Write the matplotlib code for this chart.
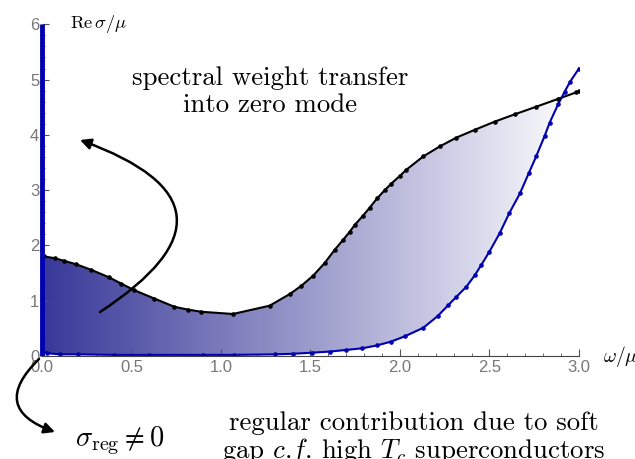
import numpy as np
import matplotlib
matplotlib.use("Agg")
import matplotlib.pyplot as plt
from matplotlib.ticker import MultipleLocator, FormatStrFormatter

plt.rcParams['mathtext.fontset'] = 'cm'

# upper curve (black): Re sigma / mu
x_up = [0.0, 0.013, 0.07, 0.125, 0.19, 0.274, 0.377, 0.442, 0.516, 0.627, 0.74, 0.814,
        0.89, 1.067, 1.272, 1.384, 1.449, 1.514, 1.579, 1.635, 1.682, 1.72, 1.747,
        1.794, 1.83, 1.872, 1.915, 1.952, 2.0, 2.036, 2.13, 2.222, 2.315, 2.417, 2.53,
        2.64, 2.762, 2.883, 2.986, 3.0]
y_up = [1.80, 1.80, 1.77, 1.72, 1.66, 1.56, 1.42, 1.31, 1.19, 1.04, 0.89, 0.84,
        0.80, 0.76, 0.91, 1.12, 1.27, 1.45, 1.68, 1.92, 2.10, 2.25, 2.37,
        2.54, 2.68, 2.85, 3.00, 3.12, 3.26, 3.37, 3.61, 3.79, 3.95, 4.09, 4.24,
        4.37, 4.51, 4.65, 4.77, 4.79]

# lower curve (blue): regular contribution
x_lo = [0.0, 0.03, 0.1, 0.2, 0.4, 0.6, 0.9, 1.07, 1.3, 1.4, 1.51, 1.607, 1.7, 1.79,
        1.87, 1.95, 2.03, 2.13, 2.21, 2.27, 2.315, 2.37, 2.418, 2.455, 2.5, 2.557,
        2.61, 2.67, 2.72, 2.762, 2.808, 2.836, 2.883, 2.92, 2.95, 3.0]
y_lo = [0.10, 0.05, 0.03, 0.03, 0.02, 0.02, 0.02, 0.02, 0.03, 0.04, 0.06, 0.08, 0.11,
        0.14, 0.19, 0.26, 0.36, 0.51, 0.72, 0.92, 1.07, 1.25, 1.46, 1.65, 1.89, 2.22,
        2.58, 2.94, 3.31, 3.62, 3.98, 4.22, 4.55, 4.78, 4.96, 5.20]

# delta function at zero frequency
delta_height = 6.0

fig = plt.figure(figsize=(6.35, 4.59), dpi=100)
ax = fig.add_axes([0.0661, 0.2244, 0.8457, 0.7227])
ax.set_xlim(0, 3.0)
ax.set_ylim(0, 6.0)

# gradient fill between the two curves
px = np.concatenate([x_up, x_lo[::-1]])
py = np.concatenate([y_up, y_lo[::-1]])
clip = ax.fill(px, py, fc='none', ec='none')[0]
c0 = np.array([0.22, 0.22, 0.60])
c1 = np.array([1.0, 1.0, 1.0])
t = np.linspace(0, 1, 256)
grad = (c0[None, :] * (1 - t[:, None]) + c1[None, :] * t[:, None])[None, :, :]
im = ax.imshow(grad, extent=(0, 3.0, 0, 6.0), aspect='auto', origin='lower', zorder=1)
im.set_clip_path(clip)

ax.plot(x_up, y_up, color='black', lw=1.5, zorder=3)
ax.plot(x_up, y_up, 'o', color='black', ms=2.3, zorder=4)
ax.plot(x_lo, y_lo, color='#0000b0', lw=1.5, zorder=3)
ax.plot(x_lo, y_lo, 'o', color='#0000b0', ms=2.3, zorder=4)
ax.plot([0, 0], [0, delta_height], color='#0000b0', lw=3.5, zorder=5, clip_on=False,
        solid_capstyle='butt')

for s in ['top', 'right', 'left']:
    ax.spines[s].set_visible(False)
ax.spines['bottom'].set_color('#444444')
ax.spines['bottom'].set_zorder(6)
ax.xaxis.set_major_locator(MultipleLocator(0.5))
ax.xaxis.set_minor_locator(MultipleLocator(0.1))
ax.yaxis.set_major_locator(MultipleLocator(1))
ax.yaxis.set_minor_locator(MultipleLocator(0.2))
ax.xaxis.set_major_formatter(FormatStrFormatter('%.1f'))
ax.yaxis.set_major_formatter(FormatStrFormatter('%d'))
ax.tick_params(which='both', direction='in', colors='#555555', labelcolor='#777777',
               labelsize=12, labelfontfamily='Liberation Sans')
ax.tick_params(which='major', length=5)
ax.tick_params(which='minor', length=2.5)
ax.tick_params(axis='y', pad=2)
ax.tick_params(axis='x', pad=3)

# axis labels
fig.text(70, 431, r'$\mathrm{Re}\,\sigma/\mu$', transform=None, fontsize=13.3,
         va='baseline', ha='left')
fig.text(603, 97, r'$\omega/\mu$', transform=None, fontsize=14,
         va='baseline', ha='left')

# annotations
fig.text(270, 374, 'spectral weight transfer', transform=None,
         family='cmr10', fontsize=19.3, ha='center', va='baseline')
fig.text(270, 347, 'into zero mode', transform=None,
         family='cmr10', fontsize=19.3, ha='center', va='baseline')
fig.text(414, 29, 'regular contribution due to soft', transform=None,
         family='cmr10', fontsize=19.3, ha='center', va='baseline')
fig.text(414, 1, 'gap $c$.$f$. high $T_c$ superconductors', transform=None,
         family='cmr10', fontsize=19.3, ha='center', va='baseline')
fig.text(75, 13, r'$\sigma_{\rm reg} \neq 0$', transform=None, fontsize=20.5,
         ha='left', va='baseline')

ax.annotate('', xy=(80, 319), xycoords='figure pixels', xytext=(100, 147),
            textcoords='figure pixels',
            arrowprops=dict(arrowstyle='-|>', color='black', lw=1.8, mutation_scale=16,
                            connectionstyle='arc3,rad=1.0', shrinkA=0, shrinkB=0))
ax.annotate('', xy=(55, 27), xycoords='figure pixels', xytext=(39, 100),
            textcoords='figure pixels',
            arrowprops=dict(arrowstyle='-|>', color='black', lw=1.8, mutation_scale=16,
                            connectionstyle='arc3,rad=0.8', shrinkA=0, shrinkB=0))

fig.savefig('out.png', dpi=100)
